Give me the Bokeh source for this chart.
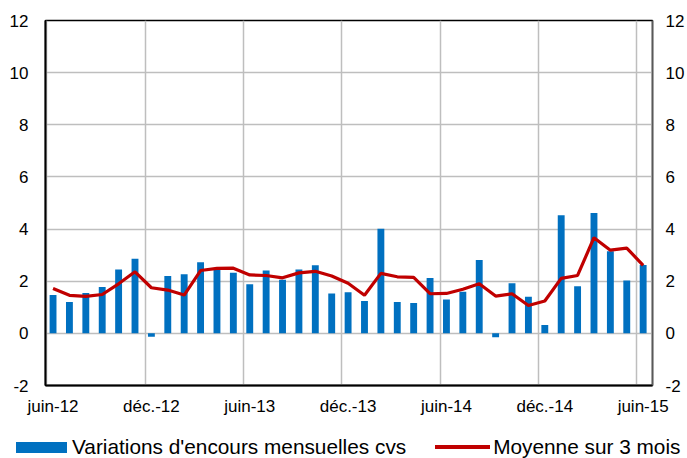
from bokeh.plotting import figure
from bokeh.models import Range1d, FixedTicker, LinearAxis, Div
from bokeh.layouts import column
from bokeh.embed import file_html
from bokeh.resources import INLINE

# ---- data ----
months = ["juin-12","juil.-12","août-12","sept.-12","oct.-12","nov.-12","déc.-12",
          "janv.-13","févr.-13","mars-13","avr.-13","mai-13","juin-13",
          "juil.-13","août-13","sept.-13","oct.-13","nov.-13","déc.-13",
          "janv.-14","févr.-14","mars-14","avr.-14","mai-14","juin-14",
          "juil.-14","août-14","sept.-14","oct.-14","nov.-14","déc.-14",
          "janv.-15","févr.-15","mars-15","avr.-15","mai-15","juin-15"]
variations = [1.47, 1.20, 1.55, 1.78, 2.45, 2.86, -0.13, 2.20, 2.27, 2.73, 2.45, 2.32,
              1.88, 2.41, 2.06, 2.45, 2.61, 1.53, 1.58, 1.24, 4.01, 1.20, 1.16, 2.12,
              1.30, 1.60, 2.81, -0.15, 1.92, 1.40, 0.32, 4.53, 1.81, 4.62, 3.15, 2.03, 2.62]
moyenne = [1.72, 1.46, 1.42, 1.49, 1.90, 2.36, 1.75, 1.66, 1.47, 2.41, 2.49, 2.50,
           2.24, 2.22, 2.13, 2.32, 2.38, 2.20, 1.92, 1.46, 2.30, 2.17, 2.15, 1.52,
           1.53, 1.69, 1.90, 1.43, 1.52, 1.07, 1.24, 2.11, 2.22, 3.67, 3.19, 3.27, 2.61]
tick_labels = ["juin-12", "déc.-12", "juin-13", "déc.-13", "juin-14", "déc.-14", "juin-15"]
y_ticks = [-2, 0, 2, 4, 6, 8, 10, 12]
series_names = ["Variations d'encours mensuelles cvs", "Moyenne sur 3 mois"]

BAR_COLOR = "#0070C0"
LINE_COLOR = "#C00000"
FONT = "Liberation Sans"

x = list(range(len(months)))
label_pos = [months.index(t) for t in tick_labels]
GRID_SHIFT = 0.38
y_overrides = {t: str(t) for t in y_ticks}

p = figure(width=687, height=420, output_backend="svg", toolbar_location=None,
           x_range=Range1d(-0.46, 36.57), y_range=Range1d(-2, 12),
           min_border_left=45, min_border_right=33, min_border_top=20, min_border_bottom=35)
p.background_fill_color = "white"
p.border_fill_color = "white"
p.outline_line_color = "black"
p.outline_line_width = 1.5

# grids
p.xgrid.ticker = FixedTicker(ticks=[t - GRID_SHIFT for t in label_pos])
p.xgrid.grid_line_color = "#BEBEBE"
p.xgrid.grid_line_width = 1.5
p.ygrid.ticker = FixedTicker(ticks=y_ticks)
p.ygrid.grid_line_color = "#BEBEBE"
p.ygrid.grid_line_width = 1.5

p.vbar(x=x, top=variations, width=0.42, color=BAR_COLOR, line_color=None)
p.line(x, moyenne, line_color=LINE_COLOR, line_width=3.2)


def style_axis(ax, standoff):
    ax.major_tick_line_color = None
    ax.minor_tick_line_color = None
    ax.major_tick_out = 0
    ax.major_tick_in = 0
    ax.minor_tick_out = 0
    ax.minor_tick_in = 0
    ax.major_label_text_font = FONT
    ax.major_label_text_font_size = "17px"
    ax.major_label_text_color = "black"
    ax.major_label_standoff = standoff


xa = p.xaxis[0]
xa.ticker = FixedTicker(ticks=label_pos)
xa.major_label_overrides = {i: months[i] for i in label_pos}
xa.axis_line_color = "black"
xa.axis_line_width = 2
style_axis(xa, 11)

ya = p.yaxis[0]
ya.ticker = FixedTicker(ticks=y_ticks)
ya.major_label_overrides = y_overrides
ya.axis_line_color = "black"
ya.axis_line_width = 2
style_axis(ya, 17)

ra = LinearAxis(ticker=FixedTicker(ticks=y_ticks))
ra.major_label_overrides = y_overrides
ra.axis_line_color = "#595959"
ra.axis_line_width = 1.5
style_axis(ra, 13)
p.add_layout(ra, "right")

# ---- legend strip (HTML) ----
legend_html = (
    f'<div style="box-sizing:border-box;width:687px;height:38px;padding:16px 0 0 16px;'
    f'display:flex;align-items:center;white-space:nowrap;'
    f'font-family:\'{FONT}\';font-size:20.8px;color:black;line-height:22px;">'
    f'<span style="display:inline-block;width:51px;height:11px;background:{BAR_COLOR};margin-right:5px;"></span>'
    f'<span>{series_names[0]}</span>'
    f'<span style="display:inline-block;width:55px;height:4px;background:{LINE_COLOR};margin-left:29px;margin-right:3px;"></span>'
    f'<span>{series_names[1]}</span>'
    f'</div>'
)
leg = Div(text=legend_html, width=687, height=38, margin=0)

open("out.html", "w").write(file_html(column(p, leg, spacing=0), INLINE))
